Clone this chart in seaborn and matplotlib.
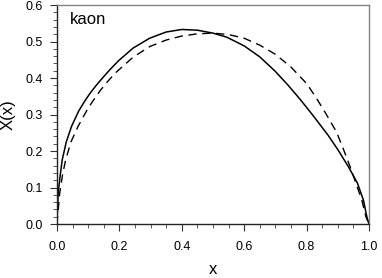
import seaborn as sns
from matplotlib import pyplot as plt
from matplotlib.ticker import MultipleLocator, FormatStrFormatter

x_solid = [0.0, 0.004, 0.01, 0.017, 0.03, 0.047, 0.07, 0.09, 0.106, 0.125,
           0.148, 0.17, 0.197, 0.244, 0.297, 0.35, 0.40, 0.45, 0.50, 0.544,
           0.60, 0.65, 0.70, 0.74, 0.779, 0.82, 0.87, 0.90, 0.934, 0.963,
           0.982, 0.993, 1.0]
y_solid = [0.0, 0.085, 0.13, 0.176, 0.225, 0.268, 0.31, 0.338, 0.358, 0.379,
           0.402, 0.423, 0.447, 0.482, 0.509, 0.526, 0.533, 0.531, 0.523, 0.512,
           0.488, 0.458, 0.418, 0.381, 0.342, 0.298, 0.242, 0.204, 0.157, 0.112,
           0.066, 0.02, 0.0]

x_dashed = [0.0, 0.009, 0.018, 0.028, 0.045, 0.068, 0.095, 0.115, 0.14, 0.165,
            0.19, 0.244, 0.297, 0.35, 0.40, 0.45, 0.50, 0.55, 0.60, 0.65,
            0.70, 0.75, 0.80, 0.83, 0.86, 0.896, 0.918, 0.939, 0.958, 0.977,
            0.99, 1.0]
y_dashed = [0.0, 0.085, 0.135, 0.176, 0.225, 0.268, 0.31, 0.337, 0.367, 0.393,
            0.416, 0.457, 0.486, 0.504, 0.515, 0.521, 0.523, 0.519, 0.509, 0.49,
            0.465, 0.43, 0.385, 0.347, 0.305, 0.252, 0.205, 0.158, 0.112, 0.066,
            0.02, 0.0]

sns.set_style('ticks')
plt.rcParams['font.family'] = ['Liberation Sans', 'DejaVu Sans']
plt.rcParams['text.color'] = 'black'
plt.rcParams['axes.labelcolor'] = 'black'
plt.rcParams['xtick.color'] = 'black'
plt.rcParams['ytick.color'] = 'black'

fig = plt.figure(figsize=(3.82, 2.78), dpi=100)
ax = fig.add_axes([0.149, 0.194, 0.817, 0.788])

sns.lineplot(x=x_solid, y=y_solid, ax=ax, color='black', lw=1.1)
sns.lineplot(x=x_dashed, y=y_dashed, ax=ax, color='black', lw=1.0,
             linestyle=(0, (6, 4)))

ax.set_xlim(0, 1)
ax.set_ylim(0, 0.6)
ax.xaxis.set_major_locator(MultipleLocator(0.2))
ax.xaxis.set_minor_locator(MultipleLocator(0.05))
ax.yaxis.set_major_locator(MultipleLocator(0.1))
ax.yaxis.set_minor_locator(MultipleLocator(0.02))
ax.xaxis.set_major_formatter(FormatStrFormatter('%.1f'))
ax.yaxis.set_major_formatter(FormatStrFormatter('%.1f'))
ax.tick_params(which='major', direction='out', length=5, width=0.8,
               color='#333333', labelsize=9, pad=5)
ax.tick_params(which='minor', direction='out', length=3, width=0.7,
               color='#555555')
ax.tick_params(axis='x', pad=7)

for side in ['left', 'bottom']:
    ax.spines[side].set_color('#222222')
    ax.spines[side].set_linewidth(1.0)
for side in ['top', 'right']:
    ax.spines[side].set_visible(True)
    ax.spines[side].set_color('#808080')
    ax.spines[side].set_linewidth(1.0)

ax.set_xlabel('x', fontsize=12, labelpad=7)
ax.set_ylabel('X(x)', fontsize=12, labelpad=7)
ax.text(0.042, 0.559, 'kaon', fontsize=12, va='center', ha='left')

fig.savefig('out.png', dpi=100)
